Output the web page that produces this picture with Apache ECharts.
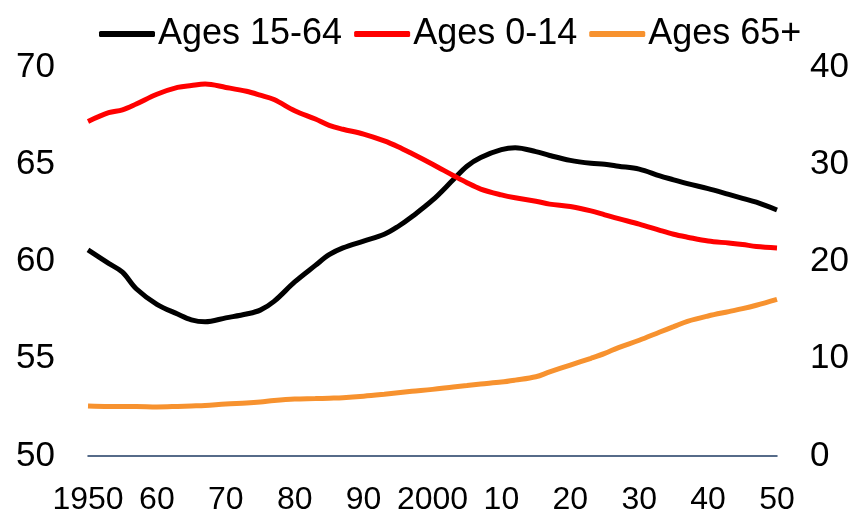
<!DOCTYPE html>
<html>
<head>
<meta charset="utf-8">
<style>
  html, body { margin: 0; padding: 0; background: #ffffff; }
  #main { width: 854px; height: 517px; }
</style>
<script src="https://cdn.jsdelivr.net/npm/echarts@6/dist/echarts.min.js"></script>
</head>
<body>
<div id="main"></div>
<script>
// years
var years = [1950, 1953, 1955, 1957, 1960, 1963, 1965, 1967, 1970, 1973, 1975, 1977,
  1980, 1983, 1985, 1987, 1990, 1993, 1995, 1997, 2000, 2003, 2005, 2007,
  2010, 2012, 2015, 2017, 2020, 2023, 2025, 2027, 2030, 2033, 2035, 2037,
  2040, 2043, 2045, 2047, 2050];

// Ages 15-64, left axis (%)
var ages15to64 = [60.6, 59.9, 59.45, 58.6, 57.8, 57.3, 57.0, 56.9, 57.1, 57.3, 57.5, 57.95,
  58.95, 59.8, 60.35, 60.7, 61.05, 61.4, 61.8, 62.3, 63.15, 64.2, 64.9, 65.35,
  65.75, 65.85, 65.65, 65.45, 65.2, 65.05, 65.0, 64.9, 64.75, 64.4, 64.2, 64.0,
  63.75, 63.45, 63.25, 63.05, 62.65];

// Ages 0-14, right axis (%)
var ages0to14 = [34.4, 35.3, 35.6, 36.2, 37.2, 37.9, 38.1, 38.25, 37.9, 37.5, 37.1, 36.65,
  35.5, 34.65, 34.0, 33.6, 33.1, 32.4, 31.8, 31.1, 30.0, 28.85, 28.1, 27.45,
  26.85, 26.55, 26.2, 25.9, 25.65, 25.2, 24.8, 24.4, 23.85, 23.2, 22.8, 22.5,
  22.1, 21.9, 21.75, 21.55, 21.4];

// Ages 65+, right axis (%)
var ages65plus = [5.15, 5.1, 5.1, 5.1, 5.05, 5.1, 5.15, 5.2, 5.35, 5.45, 5.55, 5.7,
  5.85, 5.9, 5.95, 6.0, 6.15, 6.35, 6.5, 6.65, 6.85, 7.1, 7.25, 7.4,
  7.6, 7.8, 8.15, 8.65, 9.35, 10.05, 10.55, 11.15, 11.9, 12.75, 13.3, 13.85,
  14.4, 14.85, 15.15, 15.5, 16.1];

var leftTicks = { min: 50, max: 70, step: 5 };
var rightTicks = { min: 0, max: 40, step: 10 };

function pairs(vals) {
  return years.map(function (y, i) { return [y, vals[i]]; });
}

var FONT = "'Liberation Sans', Arial, sans-serif";

var chart = echarts.init(document.getElementById('main'));

var option = {
  animation: false,
  backgroundColor: '#ffffff',
  legend: {
    top: 11,
    left: 94,
    itemWidth: 56,
    itemHeight: 6,
    itemGap: 12,
    icon: 'roundRect',
    textStyle: { fontFamily: FONT, fontSize: 36, color: '#000', padding: [0, 0, 0, -2] },
    data: ['Ages 15-64', 'Ages 0-14', 'Ages 65+']
  },
  grid: { left: 88, right: 77, top: 67, bottom: 61, containLabel: false },
  xAxis: {
    type: 'value',
    min: 1950,
    max: 2050,
    interval: 10,
    axisLine: { show: true, lineStyle: { color: '#1f3b63', width: 1.5 } },
    axisTick: { show: false },
    splitLine: { show: false },
    axisLabel: {
      showMinLabel: true,
      showMaxLabel: true,
      margin: 28,
      color: '#000',
      fontSize: 32,
      fontFamily: FONT,
      formatter: function (v) {
        if (v === 1950 || v === 2000) return String(v);
        return String(v).slice(2);
      }
    }
  },
  yAxis: [
    {
      type: 'value',
      min: leftTicks.min,
      max: leftTicks.max,
      interval: leftTicks.step,
      axisLine: { show: false },
      axisTick: { show: false },
      splitLine: { show: false },
      axisLabel: { margin: 33, color: '#000', fontSize: 35, fontFamily: FONT }
    },
    {
      type: 'value',
      position: 'right',
      min: rightTicks.min,
      max: rightTicks.max,
      interval: rightTicks.step,
      axisLine: { show: false },
      axisTick: { show: false },
      splitLine: { show: false },
      axisLabel: { margin: 33, color: '#000', fontSize: 35, fontFamily: FONT }
    }
  ],
  series: [
    {
      name: 'Ages 15-64',
      type: 'line',
      yAxisIndex: 0,
      data: pairs(ages15to64),
      smooth: 0.35,
      showSymbol: false,
      color: '#000000',
      lineStyle: { width: 5, color: '#000000' }
    },
    {
      name: 'Ages 0-14',
      type: 'line',
      yAxisIndex: 1,
      data: pairs(ages0to14),
      smooth: 0.35,
      showSymbol: false,
      color: '#ff0000',
      lineStyle: { width: 5, color: '#ff0000' }
    },
    {
      name: 'Ages 65+',
      type: 'line',
      yAxisIndex: 1,
      data: pairs(ages65plus),
      smooth: 0.35,
      showSymbol: false,
      color: '#f7922f',
      lineStyle: { width: 5, color: '#f7922f' }
    }
  ]
};

chart.setOption(option);
</script>
</body>
</html>
